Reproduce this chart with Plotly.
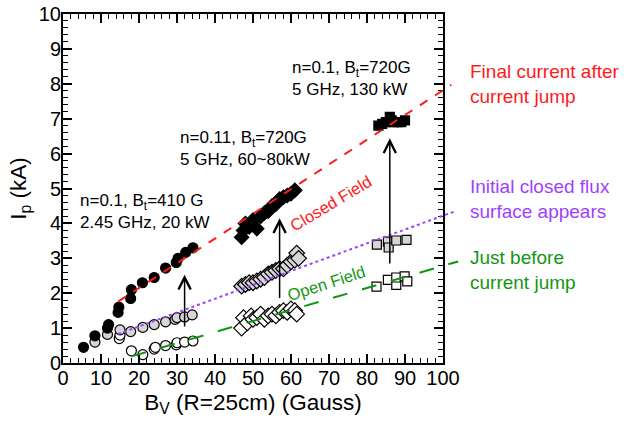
import plotly.graph_objects as go

# ---- data ----
# Bt=410 G, 2.45 GHz (circles)
circ_black_x = [5.4, 8.4, 11.7, 12.0, 14.5, 14.7, 17.8, 18.0, 20.9, 24.0, 27.0, 29.8, 30.3, 32.3, 34.2]
circ_black_y = [0.45, 0.78, 1.0, 1.1, 1.45, 1.6, 1.85, 2.1, 2.3, 2.45, 2.72, 2.88, 3.0, 3.17, 3.3]
circ_gray_x = [8.4, 11.7, 15.0, 17.8, 21.0, 24.0, 27.0, 29.5, 30.0, 32.0, 34.0]
circ_gray_y = [0.6, 0.82, 0.95, 0.9, 1.02, 1.1, 1.18, 1.25, 1.3, 1.32, 1.38]
circ_open_x = [14.8, 15.0, 18.0, 21.0, 24.0, 24.3, 27.0, 29.8, 30.0, 32.0, 34.2]
circ_open_y = [0.7, 0.8, 0.35, 0.24, 0.4, 0.45, 0.5, 0.52, 0.58, 0.6, 0.63]

# Bt=720 G, 5 GHz 60~80 kW (diamonds)
dia_black_x = [47.0, 47.5, 48.0, 49.0, 50.0, 51.0, 52.0, 53.0, 54.0, 55.0, 56.0, 57.0, 58.0, 59.0, 60.0, 61.0]
dia_black_y = [3.6, 3.8, 4.0, 3.9, 4.1, 3.85, 4.2, 4.3, 4.35, 4.5, 4.55, 4.7, 4.75, 4.8, 4.85, 4.95]
dia_gray_x = [47.0, 48.0, 49.0, 50.0, 51.0, 52.0, 53.0, 54.0, 55.0, 56.0, 57.0, 58.0, 59.0, 60.0, 61.0, 61.5, 62.0]
dia_gray_y = [2.2, 2.25, 2.3, 2.3, 2.35, 2.4, 2.45, 2.55, 2.6, 2.65, 2.7, 2.7, 2.8, 2.9, 2.95, 3.15, 3.0]
dia_open_x = [47.0, 47.5, 48.5, 49.5, 50.0, 51.0, 52.0, 53.0, 54.0, 55.0, 56.0, 57.0, 58.0, 59.0, 60.0, 61.0, 61.5]
dia_open_y = [1.0, 1.3, 1.15, 1.35, 1.25, 1.3, 1.4, 1.25, 1.35, 1.4, 1.35, 1.45, 1.5, 1.45, 1.55, 1.5, 1.4]

# Bt=720 G, 5 GHz 130 kW (squares)
sq_black_x = [83.0, 84.0, 85.0, 86.0, 86.5, 87.0, 88.0, 89.0, 90.0]
sq_black_y = [6.8, 6.85, 6.9, 7.05, 6.95, 6.9, 6.9, 6.9, 6.95]
sq_gray_x = [82.6, 85.5, 85.7, 87.7, 90.4]
sq_gray_y = [3.39, 3.48, 3.31, 3.51, 3.53]
sq_open_x = [82.5, 85.5, 87.7, 87.7, 89.9, 90.6]
sq_open_y = [2.19, 2.38, 2.24, 2.45, 2.48, 2.34]

# fit lines (endpoints)
red_fit_x = [14.5, 102.2]
red_fit_y = [1.76, 7.97]
purple_fit_x = [14.5, 103.5]
purple_fit_y = [0.83, 4.36]
green_fit_x = [18.0, 104.0]
green_fit_y = [0.19, 2.91]

# jump arrows (x, from y, to y)
arrow_x = [32.0, 57.0, 86.0]
arrow_from = [1.0, 1.82, 2.81]
arrow_to = [2.53, 4.15, 6.44]

X_RANGE = [0, 100]
Y_RANGE = [0, 10]

RED = "#ff1a1a"
PURPLE = "#a040ff"
GREEN = "#129612"
FONT = "Liberation Sans, Arial, Helvetica, sans-serif"

fig = go.Figure()

def add_pts(x, y, symbol, fill, size):
    fig.add_trace(go.Scatter(
        x=x, y=y, mode="markers",
        marker=dict(symbol=symbol, size=size, color=fill,
                    line=dict(color="black", width=1.2)),
        showlegend=False, hoverinfo="skip"))

add_pts(circ_open_x, circ_open_y, "circle", "white", 10)
add_pts(circ_gray_x, circ_gray_y, "circle", "#d6d6d6", 10)
add_pts(circ_black_x, circ_black_y, "circle", "black", 10)
add_pts(dia_open_x, dia_open_y, "diamond", "white", 12)
add_pts(dia_gray_x, dia_gray_y, "diamond", "#d6d6d6", 12)
add_pts(dia_black_x, dia_black_y, "diamond", "black", 11)
add_pts(sq_open_x, sq_open_y, "square", "white", 9)
add_pts(sq_gray_x, sq_gray_y, "square", "#d6d6d6", 9)
add_pts(sq_black_x, sq_black_y, "square", "black", 9)

def px(v):
    return (v - X_RANGE[0]) / (X_RANGE[1] - X_RANGE[0])

def py(v):
    return (v - Y_RANGE[0]) / (Y_RANGE[1] - Y_RANGE[0])

for fx, fy, col, dash in [(red_fit_x, red_fit_y, RED, "dash"),
                          (purple_fit_x, purple_fit_y, PURPLE, "dot"),
                          (green_fit_x, green_fit_y, GREEN, "longdash")]:
    fig.add_shape(type="line", xref="paper", yref="paper",
                  x0=px(fx[0]), y0=py(fy[0]), x1=px(fx[1]), y1=py(fy[1]),
                  line=dict(color=col, width=2, dash=dash), layer="above")

annotations = []
for ax_, a0, a1 in zip(arrow_x, arrow_from, arrow_to):
    annotations.append(dict(x=ax_, y=a1, ax=ax_, ay=a0, xref="x", yref="y",
                            axref="x", ayref="y", showarrow=True, arrowhead=5,
                            arrowsize=1.6, arrowwidth=1.5, arrowcolor="black",
                            text=""))

def txt(x, y, s, color="black", size=17, xref="x", yref="y", angle=0, xanchor="left"):
    annotations.append(dict(x=x, y=y, xref=xref, yref=yref, text=s, showarrow=False,
                            xanchor=xanchor, yanchor="middle", align="left",
                            textangle=angle,
                            font=dict(color=color, size=size, family=FONT)))

txt(3.9, 4.34, "n=0.1, B<sub>t</sub>=410 G<br>2.45 GHz, 20 kW")
txt(30.3, 6.15, "n=0.11, B<sub>t</sub>=720G<br>5 GHz, 60~80kW")
txt(59.7, 8.16, "n=0.1, B<sub>t</sub>=720G<br>5 GHz, 130 kW")
txt(70.6, 4.58, "Closed Field", color=RED, size=16.5, angle=-31, xanchor="center")
txt(69.4, 2.28, "Open Field", color=GREEN, size=16.5, angle=-18, xanchor="center")

txt(1.065, 0.799, "Final current after<br>current jump", color=RED, size=19, xref="paper", yref="paper")
txt(1.065, 0.470, "Initial closed flux<br>surface appears", color=PURPLE, size=19, xref="paper", yref="paper")
txt(1.065, 0.266, "Just before<br>current jump", color=GREEN, size=19, xref="paper", yref="paper")

axis_common = dict(showgrid=False, zeroline=False, showline=True, linecolor="black",
                   linewidth=2, mirror="ticks", ticks="inside", ticklen=9,
                   tickwidth=1.5, tickcolor="black", automargin=False,
                   ticklabeloverflow="allow", ticklabelstandoff=-4,
                   tickfont=dict(size=20, family=FONT, color="black"))

fig.update_xaxes(range=X_RANGE, dtick=10, tick0=0,
                 minor=dict(dtick=2, ticks="inside", ticklen=5, tickwidth=1.2, tickcolor="black"),
                 title=dict(text="B<sub>V</sub> (R=25cm) (Gauss)", font=dict(size=22.5, family=FONT, color="black"),
                            standoff=6),
                 **axis_common)
fig.update_yaxes(range=Y_RANGE, dtick=1, tick0=0,
                 minor=dict(dtick=0.2, ticks="inside", ticklen=5, tickwidth=1.2, tickcolor="black"),
                 title=dict(text="I<sub>p</sub> (kA)", font=dict(size=22.5, family=FONT, color="black"),
                            standoff=6),
                 **axis_common)

fig.update_layout(width=624, height=424,
                  margin=dict(l=63, r=181, t=14, b=61),
                  paper_bgcolor="white", plot_bgcolor="white",
                  font=dict(family=FONT, color="black"),
                  annotations=annotations, showlegend=False)

# remove the default page margin so the figure sits at the window's top-left corner
fig.write_html("out.html", config={"displayModeBar": False},
               post_script="document.body.style.margin='0';")
